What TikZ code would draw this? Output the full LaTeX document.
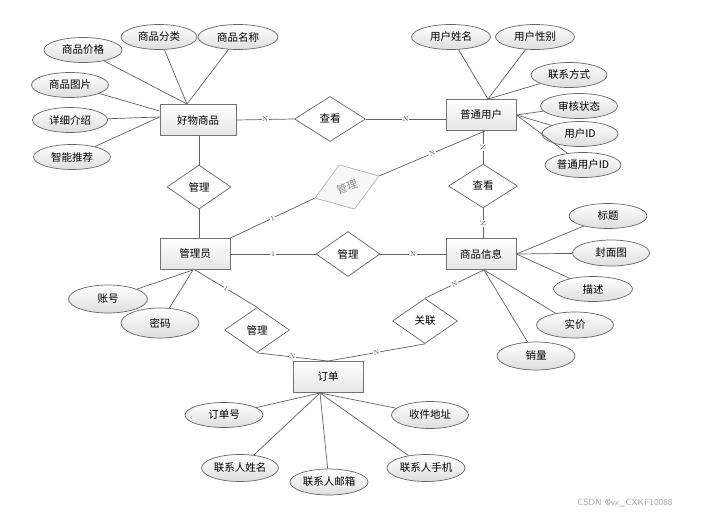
\documentclass[tikz,border=0pt]{standalone}
\usepackage{fontspec}
\newfontfamily\cjk{Noto Sans CJK SC}
\usetikzlibrary{shapes.geometric,calc}
\begin{document}
\begin{tikzpicture}[x=1pt,y=-1pt,
  txt/.style={font=\cjk\fontsize{10.5}{12}\selectfont},
  ent/.style={txt,rectangle,draw=black!55,line width=0.9pt,top color=white,bottom color=black!10,minimum width=70pt,minimum height=31pt,inner sep=0pt},
  attr/.style={txt,ellipse,draw=black!60,line width=0.7pt,top color=white,bottom color=black!13,minimum width=78pt,minimum height=25pt,inner sep=0pt},
  rel/.style={txt,diamond,draw=black!60,line width=0.7pt,fill=white,minimum width=66pt,minimum height=45pt,inner sep=0pt},
  lnk/.style={draw=black!62,line width=0.7pt},
  card/.style={font=\fontsize{7}{7}\selectfont,fill=white,inner sep=0.6pt,sloped,midway,text=black!70}
]
\useasboundingbox (0,0) rectangle (709,516);
\fill[white] (0,0) rectangle (709,516);

% entities
\node[ent,minimum width=76pt] (gw) at (198,120) {好物商品};
\node[ent] (pu) at (481,115) {普通用户};
\node[ent] (admin) at (195,254) {管理员};
\node[ent] (gi) at (481,254) {商品信息};
\node[ent] (od) at (328,377) {订单};

% relationships
\node[rel,minimum width=71pt] (r1) at (330,119) {查看};
\node[rel,minimum width=64pt,minimum height=44pt] (r2) at (199,187) {管理};
\node[rel,minimum width=68pt,minimum height=47pt,rotate=19,draw=black!30,fill=black!3,text=black!45] (r3) at (347,187) {管理};
\node[rel,minimum width=64pt] (r4) at (348,254) {管理};
\node[rel,minimum width=69pt,minimum height=44pt] (r5) at (483,186) {查看};
\node[rel,minimum width=65pt] (r6) at (257,330) {管理};
\node[rel,minimum width=65pt] (r7) at (425,321) {关联};

% attributes of 好物商品
\node[attr] (a1) at (83,50) {商品价格};
\node[attr,minimum width=76pt] (a2) at (159,37) {商品分类};
\node[attr,minimum width=80pt] (a3) at (238,37) {商品名称};
\node[attr,minimum width=77pt] (a4) at (70,85) {商品图片};
\node[attr,minimum width=75pt] (a5) at (70,120) {详细介绍};
\node[attr,minimum width=77pt] (a6) at (72,157) {智能推荐};

% attributes of 普通用户
\node[attr,minimum width=79pt] (b1) at (451,37) {用户姓名};
\node[attr,minimum width=79pt] (b2) at (535,37) {用户性别};
\node[attr,minimum width=76pt] (b3) at (569,75) {联系方式};
\node[attr,minimum width=77pt] (b4) at (579,106) {审核状态};
\node[attr,minimum width=76pt] (b5) at (580,134) {用户ID};
\node[attr,minimum width=76pt] (b6) at (583,165) {普通用户ID};

% attributes of 商品信息
\node[attr] (c1) at (608,216) {标题};
\node[attr,minimum width=77pt,minimum height=26pt] (c2) at (611,253) {封面图};
\node[attr,minimum width=79pt] (c3) at (593,289) {描述};
\node[attr,minimum width=77pt,minimum height=26pt] (c4) at (575,325) {实价};
\node[attr,minimum height=28pt] (c5) at (536,356) {销量};

% attributes of 管理员
\node[attr,minimum width=79pt,minimum height=28pt] (d1) at (108,299) {账号};
\node[attr,minimum height=30pt] (d2) at (160,323) {密码};

% attributes of 订单
\node[attr] (e1) at (224,415) {订单号};
\node[attr,minimum width=77pt,minimum height=27pt] (e2) at (430,415) {收件地址};
\node[attr,minimum width=77pt,minimum height=27pt] (e3) at (240,468) {联系人姓名};
\node[attr,minimum height=26pt] (e4) at (329,482) {联系人邮箱};
\node[attr,minimum height=27pt] (e5) at (426,468) {联系人手机};

% attribute links
\coordinate (gwt) at ($(gw.north)+(-11,0)$);
\coordinate (gwl) at ($(gw.west)+(0,-9)$);
\coordinate (gwl2) at ($(gw.west)+(0,-3)$);
\foreach \a in {a1,a2,a3} \draw[lnk] (\a) -- (gwt);
\draw[lnk] (a4) -- (gwl);
\draw[lnk] (a5) -- (gwl2);
\draw[lnk] (a6) -- (gwl2);

\coordinate (put) at ($(pu.north)+(7,0)$);
\foreach \a in {b1,b2,b3} \draw[lnk] (\a) -- (put);
\foreach \a in {b4,b5,b6} \draw[lnk] (\a) -- (pu.east);

\foreach \a in {c1,c2,c3} \draw[lnk] (\a) -- (gi.east);
\coordinate (gib) at ($(gi.south)+(3,0)$);
\foreach \a in {c4,c5} \draw[lnk] (\a) -- (gib);

\coordinate (adb) at ($(admin.south)+(-2,0)$);
\foreach \a in {d1,d2} \draw[lnk] (\a) -- (adb);

\coordinate (odb) at ($(od.south)+(-8,0)$);
\foreach \a in {e1,e2,e3,e4,e5} \draw[lnk] (\a) -- (odb);

% relationship links
\draw[lnk] (gw.east) -- (r1.west) node[card]{N};
\draw[lnk] (r1.east) -- (r1.east -| pu.west) node[card]{N};
\draw[lnk] (gw.south -| r2.north) -- (r2.north);
\draw[lnk] (r2.south) -- (r2.south |- admin.north);
\draw[lnk] (admin.north east) -- (r3.west) node[card]{1};
\draw[lnk] (r3.east) -- ($(pu.south)+(4,0)$) node[card]{N};
\draw[lnk] (admin.east) -- (r4.west) node[card]{1};
\draw[lnk] (r4.east) -- (gi.west) node[card]{N};
\draw[lnk] (r5.north |- pu.south) -- (r5.north) node[card]{N};
\draw[lnk] (r5.south) -- (r5.south |- gi.north) node[card]{N};
\draw[lnk] (admin.south) -- (r6.north) node[card]{1};
\draw[lnk] (r6.south) -- (od.north) node[card]{N};
\draw[lnk] (r7.south) -- (od.north) node[card]{N};
\draw[lnk] (r7.north) -- (gib) node[card]{N};

% watermark
\node[font=\sffamily\fontsize{9}{10}\selectfont,text=black!35] (wm) at (625,503) {CSDN @vx\_CXKF10088};
\end{tikzpicture}
\end{document}
